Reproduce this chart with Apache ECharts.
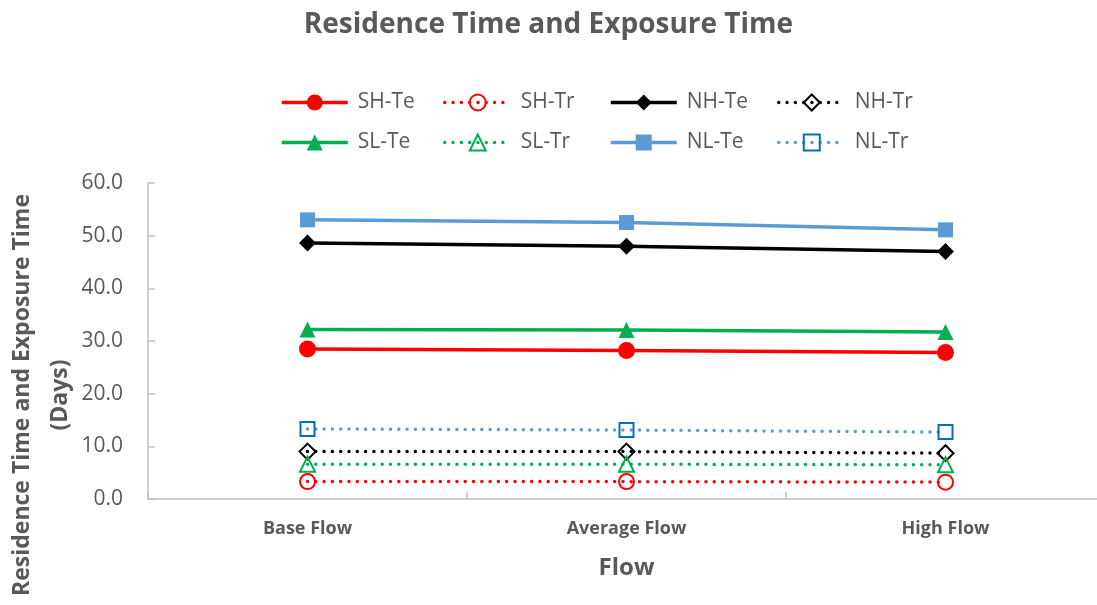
<!DOCTYPE html>
<html>
<head>
<meta charset="utf-8">
<script src="https://cdn.jsdelivr.net/npm/echarts@6/dist/echarts.min.js"></script>
<style>html,body{margin:0;padding:0;background:#fff}#c{width:1097px;height:605px}</style>
</head>
<body>
<div id="c"></div>
<script>
const categories = ['Base Flow', 'Average Flow', 'High Flow'];
const yTicks = [0, 10, 20, 30, 40, 50, 60];
const seriesNames = ['SH-Te', 'SH-Tr', 'NH-Te', 'NH-Tr', 'SL-Te', 'SL-Tr', 'NL-Te', 'NL-Tr'];
const shTe = [28.5, 28.2, 27.8];
const shTr = [3.3, 3.3, 3.2];
const nhTe = [48.6, 48.0, 47.0];
const nhTr = [9.0, 9.0, 8.7];
const slTe = [32.2, 32.1, 31.7];
const slTr = [6.6, 6.6, 6.5];
const nlTe = [53.0, 52.5, 51.1];
const nlTr = [13.3, 13.1, 12.7];

const txt = '#595959';
const font = '"Open Sans", "Liberation Sans", sans-serif';

function solid(name, data, color, symbol, size) {
  return {
    name, type: 'line', data, symbol, symbolSize: size,
    lineStyle: { color, width: 3.5 },
    itemStyle: { color, borderWidth: 0 },
    z: 3
  };
}
function dotted(name, data, lineColor, markerColor, symbol, size) {
  return {
    name, type: 'line', data, symbol, symbolSize: size,
    lineStyle: { color: lineColor, width: 3.5, type: [0, 8.3], cap: 'round' },
    itemStyle: { color: 'rgba(255,255,255,0)', borderColor: markerColor, borderWidth: 2 },
    z: 2
  };
}

const series = [
  solid('SH-Te', shTe, '#FF0000', 'circle', 17),
  dotted('SH-Tr', shTr, '#FF0000', '#FF0000', 'circle', 15),
  solid('NH-Te', nhTe, '#000000', 'diamond', 17),
  dotted('NH-Tr', nhTr, '#000000', '#000000', 'diamond', 16),
  solid('SL-Te', slTe, '#00B050', 'triangle', 16),
  dotted('SL-Tr', slTr, '#00B050', '#00B050', 'triangle', 15),
  solid('NL-Te', nlTe, '#5B9BD5', 'rect', 15),
  dotted('NL-Tr', nlTr, '#5B9BD5', '#0070C0', 'rect', 14)
];

const colX = [280, 443, 609, 777];
const rowY = [92, 132];
const legends = seriesNames.map((n, i) => ({
  data: [n],
  left: colX[i % 4],
  top: rowY[Math.floor(i / 4)],
  padding: 0,
  itemWidth: 66,
  itemHeight: 20,
  itemGap: 0,
  lineStyle: { width: 3.5 },
  textStyle: { color: txt, fontSize: 21, fontFamily: font, padding: [0, 0, 0, 5] },
  selectedMode: false
}));

const chart = echarts.init(document.getElementById('c'), null, { renderer: 'canvas' });
chart.setOption({
  animation: false,
  backgroundColor: '#fff',
  title: {
    text: 'Residence Time and Exposure Time',
    left: 'center', top: 6,
    textStyle: { color: txt, fontSize: 28, fontWeight: 'bold', fontFamily: font }
  },
  legend: legends,
  grid: { left: 148, right: -8, top: 183, bottom: 106, containLabel: false, outerBoundsMode: 'none' },
  xAxis: {
    type: 'category',
    data: categories,
    boundaryGap: true,
    name: 'Flow',
    nameLocation: 'middle',
    nameGap: 57,
    nameTextStyle: { color: txt, fontSize: 24, fontWeight: 'bold', fontFamily: font },
    axisLine: { lineStyle: { color: '#BFBFBF', width: 1.5 } },
    axisTick: { show: true, inside: true, length: 7, lineStyle: { color: '#BFBFBF', width: 1.5 } },
    axisLabel: { color: txt, fontSize: 18, fontWeight: 'bold', fontFamily: font, margin: 21 },
    splitLine: { show: false }
  },
  yAxis: {
    type: 'value',
    min: yTicks[0], max: yTicks[yTicks.length - 1], interval: yTicks[1] - yTicks[0],
    axisLine: { show: true, lineStyle: { color: '#BFBFBF', width: 1.5 } },
    axisTick: { show: true, inside: true, length: 7, lineStyle: { color: '#BFBFBF', width: 1.5 } },
    axisLabel: { color: txt, fontSize: 21, fontFamily: font, margin: 25, formatter: v => v.toFixed(1) },
    splitLine: { show: false }
  },
  graphic: [{
    type: 'text',
    x: 41, y: 395,
    rotation: Math.PI / 2,
    style: {
      text: 'Residence Time and Exposure Time\n(Days)',
      fill: txt,
      font: 'bold 23px ' + font,
      align: 'center',
      verticalAlign: 'middle',
      lineHeight: 38
    }
  }],
  series
});
</script>
</body>
</html>
